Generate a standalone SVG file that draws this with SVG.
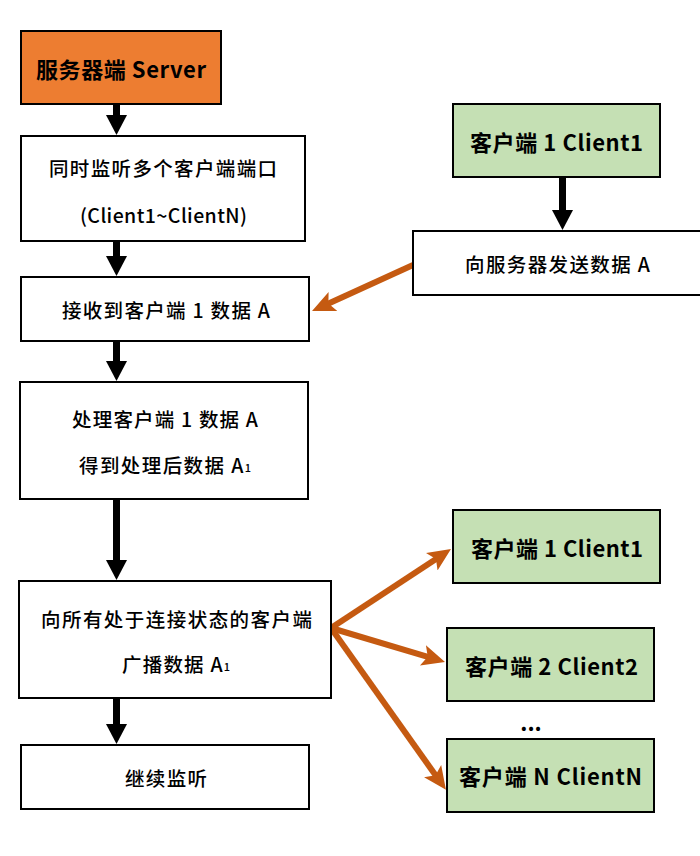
<svg xmlns="http://www.w3.org/2000/svg" width="700" height="856" viewBox="0 0 700 856">
<defs>
<style>
.box{fill:#fff;stroke:#000;stroke-width:2}
.srv{fill:#ED7D31;stroke:#000;stroke-width:2}
.cli{fill:#C5E0B4;stroke:#000;stroke-width:2}
text{font-family:"Noto Sans CJK SC","Microsoft YaHei",sans-serif;fill:#000;dominant-baseline:central;text-anchor:start}
.t{font-size:19.5px;font-weight:500}
.h{font-size:22px;font-weight:bold}
.sub{font-size:11px}
.blk{stroke:#000;stroke-width:7;fill:none}
.org{stroke:#C55A11;stroke-width:6;fill:none}
</style>
<marker id="bh" markerUnits="userSpaceOnUse" markerWidth="22" markerHeight="24" viewBox="0 -12 22 24" refX="0" refY="0" orient="auto">
<path d="M0,-10.5 L20,0 L0,10.5 Z" fill="#000"/>
</marker>
<marker id="oh" markerUnits="userSpaceOnUse" markerWidth="26" markerHeight="26" viewBox="0 -13 26 26" refX="6" refY="0" orient="auto">
<path d="M0,-10.5 L23,0 L0,10.5 L5,0 Z" fill="#C55A11"/>
</marker>
</defs>

<g id="connectors">
<line class="blk" x1="116.5" y1="104" x2="116.5" y2="115" marker-end="url(#bh)"/>
<line class="blk" x1="116.5" y1="241" x2="116.5" y2="256" marker-end="url(#bh)"/>
<line class="blk" x1="116.5" y1="341" x2="116.5" y2="361" marker-end="url(#bh)"/>
<line class="blk" x1="116.5" y1="499" x2="116.5" y2="560" marker-end="url(#bh)"/>
<line class="blk" x1="116.5" y1="698" x2="116.5" y2="724" marker-end="url(#bh)"/>
<line class="blk" x1="562.5" y1="177" x2="562.5" y2="210" marker-end="url(#bh)"/>
<line class="org" x1="413" y1="265" x2="327.5" y2="304" marker-end="url(#oh)"/>
<line class="org" x1="331" y1="628" x2="436.8" y2="558.4" marker-end="url(#oh)"/>
<line class="org" x1="331" y1="628" x2="428.7" y2="657.1" marker-end="url(#oh)"/>
<line class="org" x1="331" y1="628" x2="436.1" y2="776" marker-end="url(#oh)"/>
</g>

<g id="server">
<rect class="srv" x="21" y="31" width="200" height="73"/>
<text class="h" x="36" y="68" textLength="170">服务器端 Server</text>
</g>

<g id="listen">
<rect class="box" x="21" y="136" width="284" height="105"/>
<text class="t" x="49" y="167" textLength="228">同时监听多个客户端端口</text>
<text class="t" x="80" y="214" textLength="167">(Client1~ClientN)</text>
</g>

<g id="receive">
<rect class="box" x="21" y="277" width="288" height="64"/>
<text class="t" x="62" y="309" textLength="208">接收到客户端 1 数据 A</text>
</g>

<g id="process">
<rect class="box" x="20" y="382" width="288" height="117"/>
<text class="t" x="72" y="418" textLength="186">处理客户端 1 数据 A</text>
<text class="t" x="79" y="464" textLength="172">得到处理后数据 A<tspan class="sub" dy="3">1</tspan></text>
</g>

<g id="broadcast">
<rect class="box" x="19" y="581" width="312" height="117"/>
<text class="t" x="41" y="618" textLength="271">向所有处于连接状态的客户端</text>
<text class="t" x="122" y="663" textLength="108">广播数据 A<tspan class="sub" dy="3">1</tspan></text>
</g>

<g id="continue">
<rect class="box" x="21" y="745" width="288" height="64"/>
<text class="t" x="125" y="777" textLength="82">继续监听</text>
</g>

<g id="client1-top">
<rect class="cli" x="453" y="104" width="207" height="73"/>
<text class="h" x="470" y="141" textLength="173">客户端 1 Client1</text>
</g>

<g id="send">
<rect class="box" x="413" y="231" width="292" height="64"/>
<text class="t" x="465" y="263" textLength="185">向服务器发送数据 A</text>
</g>

<g id="client1">
<rect class="cli" x="453" y="510" width="207" height="73"/>
<text class="h" x="471" y="547" textLength="172">客户端 1 Client1</text>
</g>

<g id="client2">
<rect class="cli" x="447" y="628" width="207" height="73"/>
<text class="h" x="465" y="665" textLength="173">客户端 2 Client2</text>
</g>

<g id="ellipsis">
<text x="531" y="721" style="text-anchor:middle;font-weight:bold;font-size:22px">...</text>
</g>

<g id="clientN">
<rect class="cli" x="447" y="739" width="207" height="73"/>
<text class="h" x="459" y="775" textLength="183">客户端 N ClientN</text>
</g>
</svg>
